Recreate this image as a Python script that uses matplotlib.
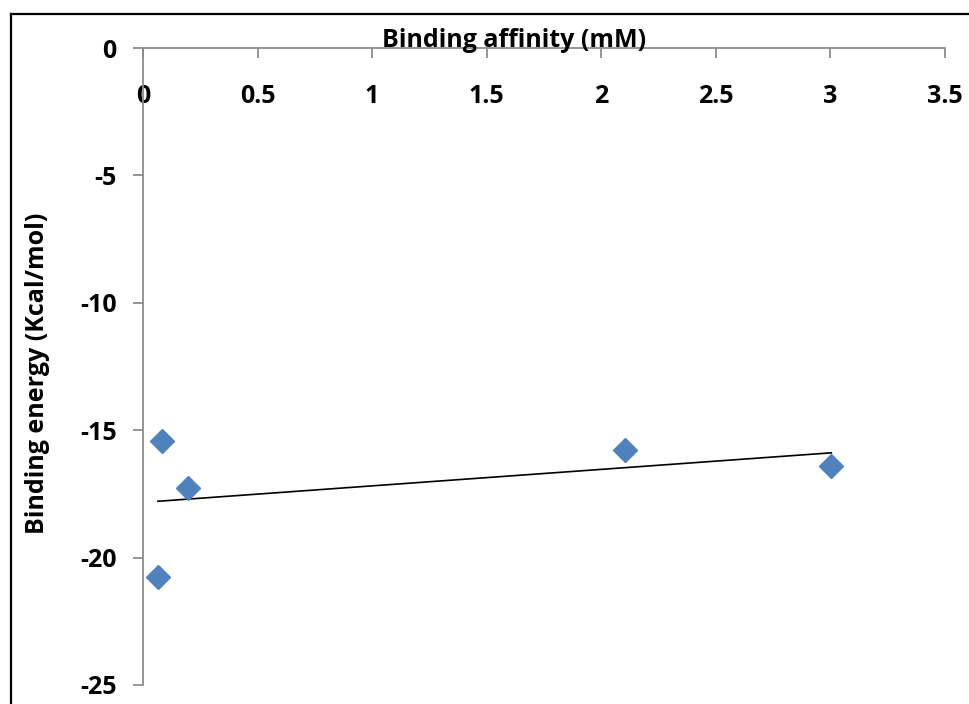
import numpy as np
import matplotlib
matplotlib.use("Agg")
import matplotlib.pyplot as plt
from matplotlib.lines import Line2D

plt.rcParams['font.family'] = ['Open Sans', 'DejaVu Sans']

# 数据
affinity = [0.065, 0.083, 0.196, 2.105, 3.004]      # mM
energy = [-20.76, -15.42, -17.27, -15.78, -16.40]   # Kcal/mol
x_ticks = [0, 0.5, 1, 1.5, 2, 2.5, 3, 3.5]
y_ticks = [0, -5, -10, -15, -20, -25]

W, H = 970, 704
fig = plt.figure(figsize=(W / 100, H / 100), dpi=100)
ax = fig.add_axes([143 / W, 1 - 685 / H, (945 - 143) / W, (685 - 48) / H])

axis_grey = '#8c8c8c'

# 散点
ax.plot(affinity, energy, linestyle='none', marker='D', ms=12,
        color='#4f81bd', mec='#4f81bd', zorder=3)

# 线性趋势线
k, b = np.polyfit(affinity, energy, 1)
xs = np.array([min(affinity), max(affinity)])
ax.plot(xs, k * xs + b, color='black', lw=1.2, zorder=2)

ax.set_xlim(0, 3.5)
ax.set_ylim(-25, 0)
ax.set_xticks(x_ticks)
ax.set_xticklabels([f'{t:g}' for t in x_ticks])
ax.set_yticks(y_ticks)
ax.set_yticklabels([f'{t:g}' for t in y_ticks])

# 坐标轴样式：x轴在 y=0 处
ax.spines['right'].set_visible(False)
ax.spines['top'].set_visible(False)
ax.spines['bottom'].set_position(('data', 0))
for s in ('left', 'bottom'):
    ax.spines[s].set_color(axis_grey)
    ax.spines[s].set_linewidth(1.3)

ax.tick_params(axis='x', direction='out', length=7, width=1.3, color=axis_grey,
               pad=19, labelsize=18)
ax.tick_params(axis='y', direction='out', length=7, width=1.3, color=axis_grey,
               pad=12, labelsize=18)
for lab in ax.get_xticklabels() + ax.get_yticklabels():
    lab.set_fontweight('bold')

fig.text(514 / W, 1 - 47 / H, 'Binding affinity (mM)', ha='center', va='baseline',
         fontsize=18, fontweight='bold')
fig.text(38 / W, 1 - 373 / H, 'Binding energy (Kcal/mol)', ha='center', va='center',
         rotation=90, fontsize=18, fontweight='bold')

# 外框（上、左）
fig.add_artist(Line2D([11 / W, 1], [1 - 14 / H, 1 - 14 / H], color='black', lw=1.6,
                      transform=fig.transFigure))
fig.add_artist(Line2D([11 / W, 11 / W], [0, 1 - 14 / H], color='black', lw=1.6,
                      transform=fig.transFigure))

fig.savefig('out.png', dpi=100)
